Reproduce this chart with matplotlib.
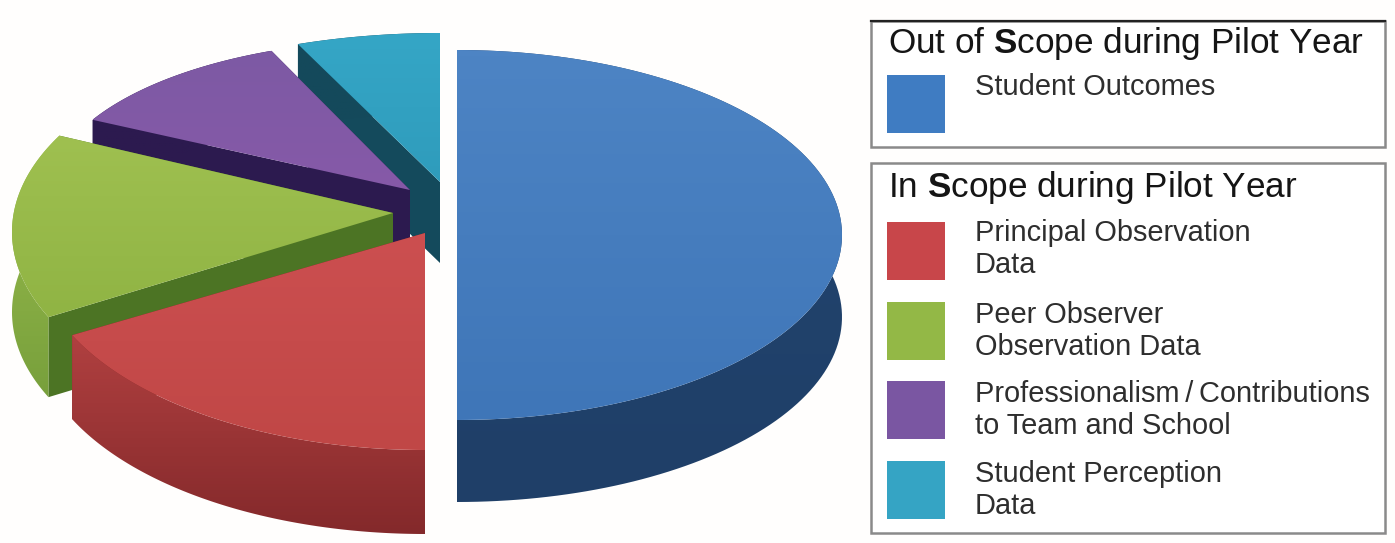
import numpy as np
import matplotlib
matplotlib.use('Agg')
import matplotlib.pyplot as plt
from matplotlib.patches import Polygon, Rectangle
from matplotlib.colors import LinearSegmentedColormap

plt.rcParams['font.family'] = ['Liberation Sans', 'DejaVu Sans']
plt.rcParams['mathtext.fontset'] = 'custom'
plt.rcParams['mathtext.bf'] = 'Liberation Sans:bold'
plt.rcParams['mathtext.rm'] = 'Liberation Sans'

# share of each slice, clockwise from the top
names = ['Student Outcomes', 'Principal Observation\nData', 'Peer Observer\nObservation Data',
         'Professionalism\u2009/\u2009Contributions\nto Team and School', 'Student Perception\nData']
shares = [50, 18, 15, 11, 6]

# every slice is pulled out on its own: apex x, apex y, rim centre x, rim centre y, rx, ry
geom = [(457, 235, 457, 235, 385, 185), (425, 233, 425, 250, 390, 200),
        (393, 213, 395, 232, 383, 200), (410, 190, 401, 194, 352, 154),
        (440, 182, 440, 191, 386, 158)]
depth = [82, 84, 80, 80, 81]
tops = [('#4d84c4', '#3f76b8'), ('#cc4f50', '#c04746'), ('#9fc050', '#90b444'),
        ('#7d5aa4', '#8659a8'), ('#35a6c6', '#2f9cbc')]
rims = [('#22456f', '#1f3f68'), ('#b04040', '#84292b'), ('#9cbe4e', '#78a03c'),
        ('#2c1a4f', '#2c1a4f'), ('#14495b', '#14495b')]
cuts = ['#1d3d63', '#7a2523', '#4c7424', '#2c1a4f', '#144a5c']
swatch = ['#3f7cc2', '#c8464a', '#93b846', '#7a56a2', '#35a4c4']

fig = plt.figure(figsize=(13.95, 5.43), dpi=100, facecolor='#fffefd')
ax = fig.add_axes([0, 0, 1, 1])
ax.set_xlim(0, 1395)
ax.set_ylim(543, 0)
ax.axis('off')


def shaded(pts, c1, c2, z):
    # polygon filled with a top to bottom gradient
    p = Polygon(pts, closed=True, fc='none', ec='none', zorder=z)
    ax.add_patch(p)
    cm = LinearSegmentedColormap.from_list('g', [c1, c2])
    g = np.linspace(0, 1, 64).reshape(-1, 1)
    x0, y0 = pts.min(axis=0)
    x1, y1 = pts.max(axis=0)
    im = ax.imshow(g, cmap=cm, extent=(x0, x1, y1, y0), aspect='auto', zorder=z)
    im.set_clip_path(p)


edges = np.cumsum([0] + shares) / 100 * 2 * np.pi
order = [4, 3, 2, 1, 0]  # back to front
for n, i in enumerate(order):
    ax_, ay_, cx, cy, rx, ry = geom[i]
    d = depth[i]
    t = np.linspace(edges[i], edges[i + 1], 120)
    arc = np.column_stack([cx + rx * np.sin(t), cy - ry * np.cos(t)])
    apex = np.array([ax_, ay_])
    z = 2 + n
    # the two cut faces
    for end in (arc[0], arc[-1]):
        q = np.array([apex, end, end + [0, d], apex + [0, d]])
        ax.add_patch(Polygon(q, closed=True, fc=cuts[i], ec='none', zorder=z))
    shaded(np.vstack([arc, (arc + [0, d])[::-1]]), rims[i][0], rims[i][1], z + 0.1)
    shaded(np.vstack([apex, arc]), tops[i][0], tops[i][1], z + 0.2)
ax.set_xlim(0, 1395)
ax.set_ylim(543, 0)

# legend boxes
ax.add_patch(Rectangle((871, 21), 514, 126, fc='white', ec='#8a8a8a', lw=1.8, zorder=20))
ax.plot([871, 1385], [21, 21], color='#222222', lw=1.6, zorder=21)
ax.add_patch(Rectangle((871, 163), 514, 370, fc='white', ec='#8a8a8a', lw=1.8, zorder=20))
ax.text(888, 44, r'Out of $\mathbf{S}$cope during Pilot Year', fontsize=25.3, va='center', color='#151515', zorder=21)
ax.text(888, 187, r'In $\mathbf{S}$cope during Pilot Year', fontsize=25.3, va='center', color='#151515', zorder=21)

swatch_y = [75, 222, 302, 381, 461]
label_y = [87, 249, 331, 410, 490]
for i in range(5):
    ax.add_patch(Rectangle((887, swatch_y[i]), 58, 58, fc=swatch[i], ec='none', zorder=21))
    ax.text(975, label_y[i], names[i], fontsize=20.9, va='center', color='#2e2e2e',
            linespacing=1.22, zorder=21)

fig.savefig('out.png', dpi=100, facecolor=fig.get_facecolor())
